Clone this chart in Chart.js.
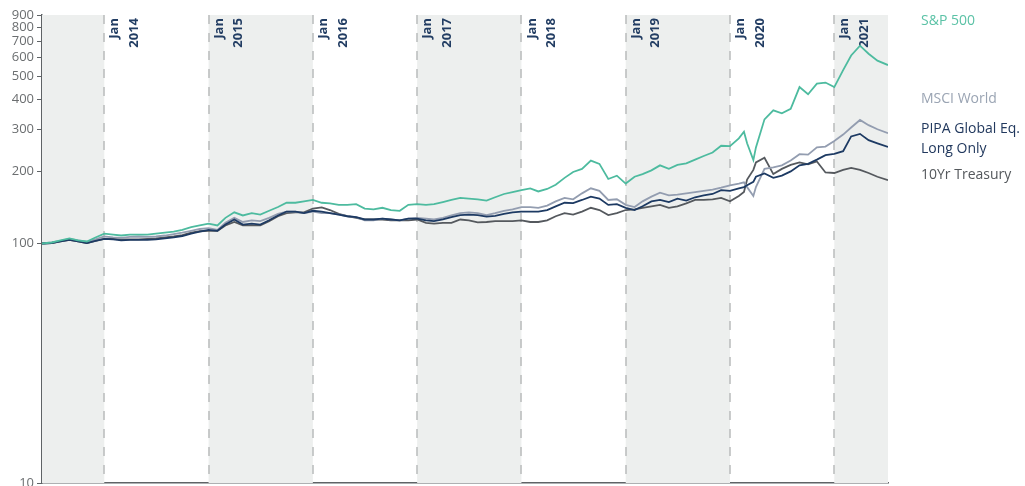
<!DOCTYPE html>
<html><head><meta charset="utf-8">
<script src="https://cdn.jsdelivr.net/npm/chart.js@4/dist/chart.umd.min.js"></script>
<style>
html,body{margin:0;padding:0;background:#fff;}
#wrap{position:relative;width:1025px;height:486px;overflow:hidden;}
canvas{display:block;}
.lg{position:absolute;left:921px;font-family:'Open Sans',sans-serif;font-size:14px;line-height:20px;white-space:nowrap;}
</style></head><body>
<div id="wrap"><canvas id="c" width="1025" height="486"></canvas>
<div class="lg" style="top:10px;color:#5bc2a6">S&amp;P 500</div>
<div class="lg" style="top:88px;color:#9aa4b3">MSCI World</div>
<div class="lg" style="top:118px;color:#22395e">PIPA Global Eq.<br>Long Only</div>
<div class="lg" style="top:164px;color:#54585c">10Yr Treasury</div>
</div>
<script>
const dates = [
'2013-05-28','2013-07-01','2013-08-01','2013-09-01','2013-10-01','2013-11-01','2013-12-01',
'2014-01-01','2014-02-01','2014-03-01','2014-04-01','2014-05-01','2014-06-01','2014-07-01','2014-08-01','2014-09-01','2014-10-01','2014-11-01','2014-12-01',
'2015-01-01','2015-02-01','2015-03-01','2015-04-01','2015-05-01','2015-06-01','2015-07-01','2015-08-01','2015-09-01','2015-10-01','2015-11-01','2015-12-01',
'2016-01-01','2016-02-01','2016-03-01','2016-04-01','2016-05-01','2016-06-01','2016-07-01','2016-08-01','2016-09-01','2016-10-01','2016-11-01','2016-12-01',
'2017-01-01','2017-02-01','2017-03-01','2017-04-01','2017-05-01','2017-06-01','2017-07-01','2017-08-01','2017-09-01','2017-10-01','2017-11-01','2017-12-01',
'2018-01-01','2018-02-01','2018-03-01','2018-04-01','2018-05-01','2018-06-01','2018-07-01','2018-08-01','2018-09-01','2018-10-01','2018-11-01','2018-12-01',
'2019-01-01','2019-02-01','2019-03-01','2019-04-01','2019-05-01','2019-06-01','2019-07-01','2019-08-01','2019-09-01','2019-10-01','2019-11-01','2019-12-01',
'2020-01-01','2020-02-01','2020-02-19','2020-03-01','2020-03-23','2020-04-01','2020-05-01','2020-06-01','2020-07-01','2020-08-01','2020-09-01','2020-10-01','2020-11-01','2020-12-01',
'2021-01-01','2021-02-01','2021-03-01','2021-04-01','2021-05-01','2021-06-01','2021-07-08'
];
const sp500 = [
100,101,103,105,103,102,106,
110,109,108,109,109,109,110,111,112,114,117,119,
121,119,128,135,131,134,132,137,142,148,148,150,
152,148,147,145,145,146,140,139,141,138,137,145,
146,145,146,149,152,155,154,153,151,156,161,164,
167,170,165,169,176,188,199,205,222,215,186,192,
178,190,195,202,212,205,213,216,224,232,240,256,
255,275,293,262,223,252,330,360,350,365,450,420,465,470,
450,530,610,670,620,580,556
];
const msciWorld = [
100,101,102.5,104.5,103,101.5,104,
107,106,105.5,106.5,107,106.5,107,108,109.5,111,113,115,
116,114,122,128,123,125,124,128,133,136,136,134,
136,134,134,132,130,129,125,125,127,126,125,127,
128,127,126,128,131,134,135,134,131.5,134,137,139,
142,142,141,144,150,155,153,162,170,166,152,153,
145,142,150,157,163,159,160,162,164,166,168,171,
175,178,180,172,158,172,205,208,212,222,236,235,252,254,
268,285,305,328,312,300,289
];
const pipa = [
100,100.5,102,103.5,102,100.5,102.5,
104.5,104,103,103.5,103.5,103.5,104,105,106,107.5,110,112,
114,113,120,126,120,121,120,125,131,136,136,134,
137,136,134,132,130,129,126,126,127,126,125,127,
127,125,124,126,129,131.5,132,131.5,129.5,130.5,133,135,
136,136,136,138,143,148,147.5,152,157,154,145,146,
141,138,143,150,152,149,154,151,156,159,161,167,
166,170,172,175,181,190,196,188,192,200,212,215,224,234,
237,243,280,287,270,262,253
];
const treasury10y = [
100,100.5,102,103.5,102,100.5,102.5,
104.5,104.5,104,104,104,104.5,105,106,107,108.5,111,112.5,
113,113,119,123,119,119,119,124,130,134,135,135,
140,141.5,138,133,130,128,126,126,126,125,125,125,
126,122,121,122,122,126,125,122.5,123,124,124,124,
125,123,123,125,130,134,132,136,141,138,131.5,134,
138,139,141,143,145,141,143,147,152,152,153,155,
150,158,164,185,203,218,228,195,205,213,218,214,220,198,
197,203,207,203,197,190,184
];
const yTicks = [10,100,200,300,400,500,600,700,800,900];
const yearStarts = [2014,2015,2016,2017,2018,2019,2020,2021];
const yearLabels = ['2014','2015','2016','2017','2018','2019','2020','2021'];
const monthLabel = 'Jan';

function toYear(s){
  const [y,m,d] = s.split('-').map(Number);
  const t0 = Date.UTC(y,0,1), t1 = Date.UTC(y+1,0,1);
  return y + (Date.UTC(y,m-1,d) - t0)/(t1 - t0);
}
const xs = dates.map(toYear);
const mk = arr => arr.map((v,i)=>({x:xs[i], y:v}));

const bgPlugin = {
  id:'bg',
  beforeDatasetsDraw(chart){
    const {ctx, chartArea:a, scales:{x}} = chart;
    ctx.save();
    ctx.fillStyle = '#edefee';
    const bands = [[x.min,2014],[2015,2016],[2017,2018],[2019,2020],[2021,x.max]];
    bands.forEach(([s,e])=>{
      const p0 = x.getPixelForValue(s), p1 = x.getPixelForValue(e);
      ctx.fillRect(p0, a.top, p1-p0, a.bottom-a.top);
    });
    ctx.strokeStyle = '#b9bcbc';
    ctx.lineWidth = 1.5;
    ctx.setLineDash([9,9]);
    yearStarts.forEach(yr=>{
      const px = Math.round(x.getPixelForValue(yr));
      ctx.beginPath();
      ctx.moveTo(px, a.top);
      ctx.lineTo(px, a.bottom);
      ctx.stroke();
    });
    ctx.setLineDash([]);
    ctx.fillStyle = '#223d63';
    ctx.font = 'bold 13px "Open Sans", sans-serif';
    ctx.textAlign = 'right';
    ctx.textBaseline = 'middle';
    yearStarts.forEach((yr,i)=>{
      const px = x.getPixelForValue(yr);
      ctx.save();
      ctx.translate(px+10.5, a.top+3);
      ctx.rotate(-Math.PI/2);
      ctx.fillText(monthLabel, 0, 0);
      ctx.fillText(yearLabels[i], 0, 19.5);
      ctx.restore();
    });
    ctx.restore();
  }
};

const ds = (label, data, color) => ({label, data: mk(data), borderColor: color, backgroundColor: color,
  borderWidth: 1.8, pointRadius: 0, tension: 0, fill: false});

new Chart(document.getElementById('c'), {
  type:'line',
  data:{datasets:[
    ds('S&P 500', sp500, '#4dbb9f'),
    ds('PIPA Global Eq. Long Only', pipa, '#1d3a63'),
    ds('MSCI World', msciWorld, '#939db0'),
    ds('10Yr Treasury', treasury10y, '#55595e')
  ]},
  options:{
    responsive:false, animation:false, devicePixelRatio:1,
    layout:{padding:{top:15, right:137, bottom:3, left:0}},
    plugins:{legend:{display:false}, tooltip:{enabled:false}},
    scales:{
      x:{type:'linear', min:xs[0], max:xs[xs.length-1],
         afterFit(s){ s.height = 0; },
         ticks:{display:false}, grid:{display:false},
         border:{display:true, color:'#5f6366', width:1.5}},
      y:{type:'logarithmic', min:10, max:900,
         afterBuildTicks(s){ s.ticks = yTicks.map(v=>({value:v})); },
         afterFit(s){ s.width = 42; s.paddingTop = 0; s.paddingBottom = 0; },
         ticks:{color:'#6b6e70', font:{family:'Open Sans', size:13}, padding:3, autoSkip:false,
                callback:(v)=>String(v)},
         grid:{display:true, drawOnChartArea:false, drawTicks:true, tickLength:5, color:'#5f6366', lineWidth:1},
         border:{display:true, color:'#5f6366', width:1.5}}
    }
  },
  plugins:[bgPlugin]
});
</script>
</body></html>
